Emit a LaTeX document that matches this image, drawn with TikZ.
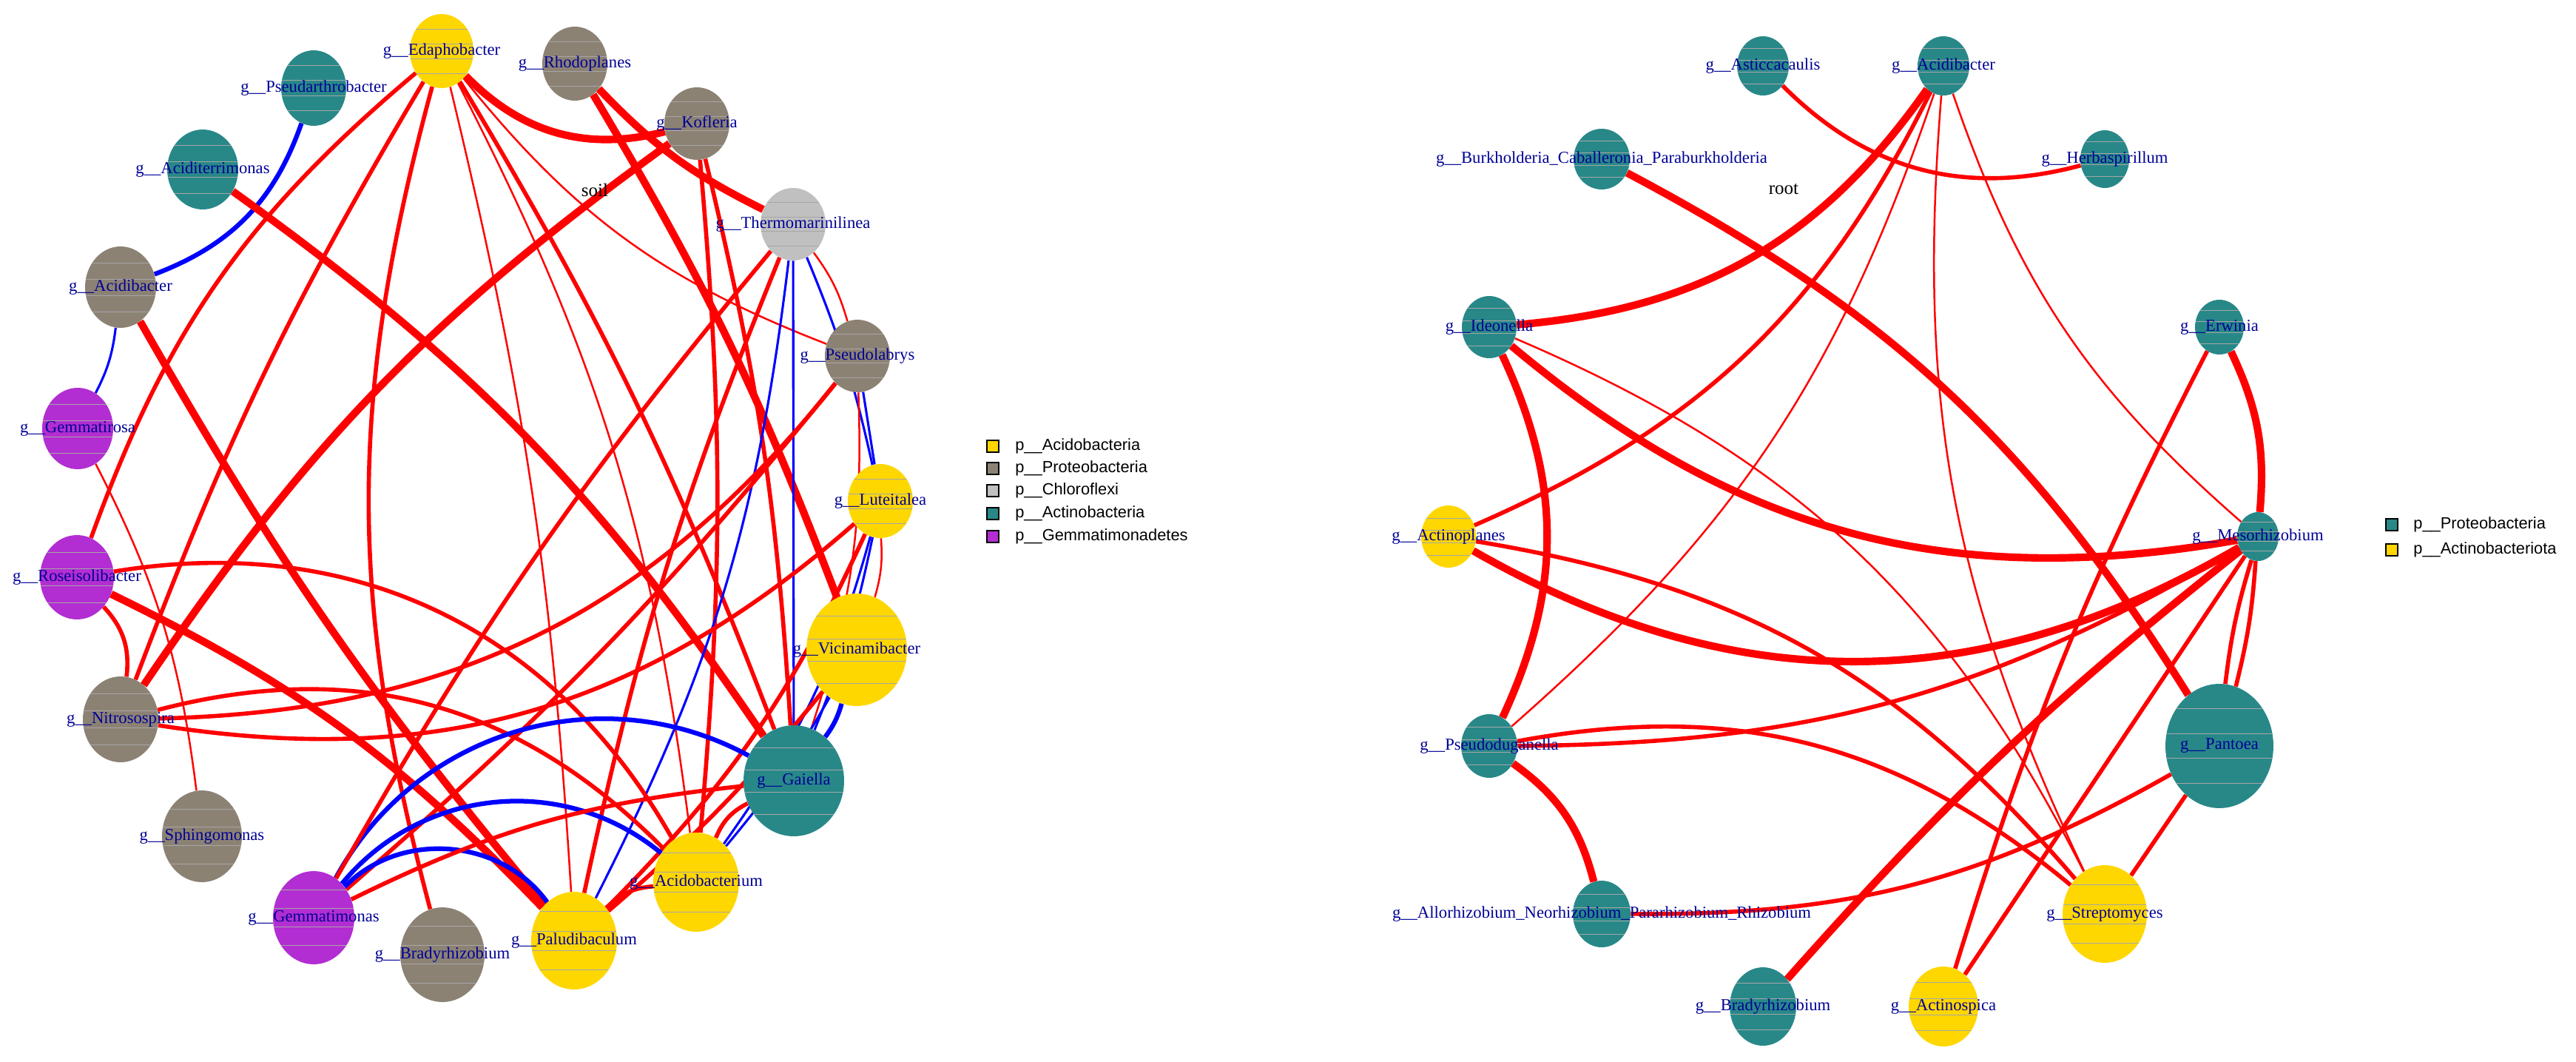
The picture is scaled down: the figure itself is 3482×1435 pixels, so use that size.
\documentclass[tikz,border=0pt]{standalone}
\usepackage{fontspec}
\setmainfont{Liberation Serif}
\newfontfamily\legfont{Liberation Sans}
\usetikzlibrary{shapes.geometric,calc}
\definecolor{yel}{RGB}{255,215,0}
\definecolor{brn}{RGB}{140,130,116}
\definecolor{gry}{RGB}{192,192,192}
\definecolor{tea}{RGB}{40,136,136}
\definecolor{pur}{RGB}{178,46,210}
\definecolor{lab}{RGB}{0,0,150}
\pgfdeclarelayer{bg}
\pgfsetlayers{bg,main}
\tikzset{
  bub/.style={ellipse,draw=none,fill=#1,inner sep=0pt,
    path picture={\foreach \f in {0.2,0.4,0.6,0.8}
      \draw[black!35,line width=0.4pt]
        ($(path picture bounding box.north west)!\f!(path picture bounding box.south west)$) --
        ($(path picture bounding box.north east)!\f!(path picture bounding box.south east)$);}},
  lbl/.style={text=lab,font=\fontsize{14.5}{15}\selectfont,inner sep=0pt},
  ttl/.style={font=\fontsize{16}{16}\selectfont,inner sep=0pt},
  leg/.style={font=\legfont\fontsize{14}{14}\selectfont,anchor=west,inner sep=0pt},
  box/.style={draw=black,line width=1pt,fill=#1,minimum size=16\pgflinewidth,inner sep=0pt,minimum width=0.36cm,minimum height=0.36cm},
  pk/.style={red,line width=6.5pt},
  pm/.style={red,line width=3.6pt},
  pt/.style={red,line width=1.6pt},
  nk/.style={blue,line width=4pt},
  nt/.style={blue,line width=2pt},
}
\newcommand{\bubble}[7]{% name, x, y, rx, ry, colour, text
  \node[bub=#6,minimum width=#4*0.045cm,minimum height=#5*0.045cm] (#1) at (#2,#3) {};
  \node[lbl] (#1t) at (#2,#3) {#7};}
\begin{document}
\begin{tikzpicture}[x=0.0225cm,y=-0.0225cm,line cap=round]
\useasboundingbox (0,0) rectangle (3482,1435);
% ---------- soil ----------
\bubble{ed}{597}{69}{43}{50}{yel}{g\_\_Edaphobacter}
\bubble{rh}{777}{86}{44}{50}{brn}{g\_\_Rhodoplanes}
\bubble{ps}{424}{119}{44}{51}{tea}{g\_\_Pseudarthrobacter}
\bubble{ko}{942}{167}{44}{49}{brn}{g\_\_Kofleria}
\bubble{at}{274}{229}{48}{54}{tea}{g\_\_Aciditerrimonas}
\bubble{th}{1072}{303}{44}{49}{gry}{g\_\_Thermomarinilinea}
\bubble{ab}{163}{388}{48}{55}{brn}{g\_\_Acidibacter}
\bubble{pl}{1159}{481}{44}{49}{brn}{g\_\_Pseudolabrys}
\bubble{gr}{105}{579}{48}{55}{pur}{g\_\_Gemmatirosa}
\bubble{lu}{1190}{677}{44}{50}{yel}{g\_\_Luteitalea}
\bubble{ro}{104}{780}{50}{57}{pur}{g\_\_Roseisolibacter}
\bubble{vi}{1158}{878}{68}{76}{yel}{g\_\_Vicinamibacter}
\bubble{ni}{163}{972}{51}{58}{brn}{g\_\_Nitrosospira}
\bubble{ga}{1073}{1055}{68}{75}{tea}{g\_\_Gaiella}
\bubble{sp}{273}{1130}{54}{62}{brn}{g\_\_Sphingomonas}
\bubble{ac}{941}{1192}{58}{67}{yel}{g\_\_Acidobacterium}
\bubble{gm}{424}{1240}{55}{63}{pur}{g\_\_Gemmatimonas}
\bubble{br}{598}{1290}{57}{64}{brn}{g\_\_Bradyrhizobium}
\bubble{pa}{776}{1271}{58}{66}{yel}{g\_\_Paludibaculum}
\node[ttl] (soil) at (804,257) {soil};
\begin{pgfonlayer}{bg}
\draw[nk] (ps) to[bend left=25] (ab);
\draw[nt] (ab) to[bend left=10] (gr);
\draw[pk] (at) to[bend left=10] (ga);
\draw[pk] (ab) to[bend right=5] (pa);
\draw[pm] (ed) to[bend right=15] (ro);
\draw[pm] (ed) to[bend right=5] (ni);
\draw[pk] (ed) to[bend right=30] (ko);
\draw[pt] (ed) to[bend left=5] (pa);
\draw[pt] (ed) to[bend left=10] (ac);
\draw[pm] (ed) to[bend left=5] (ga);
\draw[pt] (ed) to[bend right=15] (pl);
\draw[pm] (ed) to[bend right=15] (br);
\draw[pk] (rh) to[bend right=10] (th);
\draw[pk] (rh) to[bend left=5] (vi);
\draw[pk] (ko) to[bend right=10] (ni);
\draw[pm] (ko) to[bend left=5] (ac);
\draw[pm] (ko) to[bend left=5] (ga);
\draw[nt] (th) to[bend left=10] (pa);
\draw[nt] (th) to[bend left=5] (lu);
\draw[nt] (th) to (ga);
\draw[pm] (th) to[bend right=5] (pa);
\draw[pt] (th) to[bend left=10] (pl);
\draw[pm] (pl) to[bend left=25] (ni);
\draw[pt] (pl) to[bend left=10] (ga);
\draw[nt] (pl) to (lu);
\draw[pm] (pl) to[bend left=5] (gm);
\draw[nt] (lu) to[bend left=5] (ga);
\draw[nt] (lu) to[bend left=10] (ac);
\draw[pt] (lu) to[bend left=10] (vi);
\draw[pm] (lu) to[bend left=10] (pa);
\draw[nk] (vi) to[bend left=10] (ga);
\draw[nt] (vi) to[bend left=5] (ac);
\draw[pm] (vi) to[bend left=5] (pa);
\draw[pm] (ro) to[bend left=25] (ni);
\draw[pm] (ro) to[bend left=35] (ac);
\draw[pk] (ro) to[bend left=10] (pa);
\draw[pm] (ni) to[bend right=25] (lu);
\draw[pm] (ni) to[bend left=30] (ac);
\draw[pt] (gr) to[bend left=10] (sp);
\draw[nk] (gm) to[bend left=45] (ga);
\draw[nk] (gm) to[bend left=45] (ac);
\draw[nk] (gm) to[bend left=50] (pa);
\draw[pm] (gm) to[bend left=10] (ga);
\draw[pm] (gm) to[bend left=5] (th);
\draw[pm] (pa) to[bend left=20] (ac);
\draw[pm] (ac) to[bend left=20] (ga);
\end{pgfonlayer}
% legend soil
\node[box=yel] (l1) at (1342,603) {};
\node[box=brn] (l2) at (1342,633) {};
\node[box=gry] (l3) at (1342,663) {};
\node[box=tea] (l4) at (1342,694) {};
\node[box=pur] (l5) at (1342,725) {};
\node[leg] (l1t) at (1372,603) {p\_\_Acidobacteria};
\node[leg] (l2t) at (1372,633) {p\_\_Proteobacteria};
\node[leg] (l3t) at (1372,663) {p\_\_Chloroflexi};
\node[leg] (l4t) at (1372,694) {p\_\_Actinobacteria};
\node[leg] (l5t) at (1372,725) {p\_\_Gemmatimonadetes};
% ---------- root ----------
\bubble{as}{2383}{89}{35}{40}{tea}{g\_\_Asticcacaulis}
\bubble{ra}{2627}{89}{35}{40}{tea}{g\_\_Acidibacter}
\bubble{bu}{2165}{215}{38}{41}{tea}{g\_\_Burkholderia\_Caballeronia\_Paraburkholderia}
\bubble{he}{2845}{215}{33}{39}{tea}{g\_\_Herbaspirillum}
\bubble{id}{2013}{442}{37}{42}{tea}{g\_\_Ideonella}
\bubble{er}{3000}{442}{33}{37}{tea}{g\_\_Erwinia}
\bubble{an}{1958}{725}{37}{42}{yel}{g\_\_Actinoplanes}
\bubble{me}{3052}{725}{28}{33}{tea}{g\_\_Mesorhizobium}
\bubble{pd}{2013}{1008}{38}{43}{tea}{g\_\_Pseudoduganella}
\bubble{pn}{3000}{1008}{73}{84}{tea}{g\_\_Pantoea}
\bubble{al}{2165}{1235}{39}{45}{tea}{g\_\_Allorhizobium\_Neorhizobium\_Pararhizobium\_Rhizobium}
\bubble{st}{2845}{1235}{57}{66}{yel}{g\_\_Streptomyces}
\bubble{rb}{2383}{1360}{45}{53}{tea}{g\_\_Bradyrhizobium}
\bubble{sa}{2627}{1360}{47}{54}{yel}{g\_\_Actinospica}
\node[ttl] (root) at (2411,256) {root};
\begin{pgfonlayer}{bg}
\draw[pm] (as) to[bend right=30] (he);
\draw[pk] (ra) to[bend left=25] (id);
\draw[pm] (ra) to[bend left=20] (an);
\draw[pt] (ra) to[bend left=15] (pd);
\draw[pt] (ra) to[bend right=15] (me);
\draw[pt] (ra) to[bend right=15] (st);
\draw[pk] (bu) to[bend left=15] (pn);
\draw[pk] (id) to[bend left=25] (pd);
\draw[pk] (id) to[bend right=25] (me);
\draw[pt] (id) to[bend left=20] (st);
\draw[pk] (an) to[bend right=30] (me);
\draw[pm] (an) to[bend left=20] (st);
\draw[pm] (pd) to[bend right=15] (me);
\draw[pm] (pd) to[bend left=25] (st);
\draw[pk] (pd) to[bend left=20] (al);
\draw[pm] (al) to[bend right=15] (pn);
\draw[pk] (er) to[bend left=15] (me);
\draw[pm] (er) to[bend right=5] (sa);
\draw[pm] (me) to[bend left=5] (pn);
\draw[pm] (me) to[bend right=5] (pn);
\draw[pk] (me) to[bend right=5] (rb);
\draw[pm] (me) to (sa);
\draw[pm] (pn) to (st);
\end{pgfonlayer}
% legend root
\node[box=tea] (r1) at (3233,709) {};
\node[box=yel] (r2) at (3233,743) {};
\node[leg] (r1t) at (3262,709) {p\_\_Proteobacteria};
\node[leg] (r2t) at (3262,743) {p\_\_Actinobacteriota};
\end{tikzpicture}
\end{document}
